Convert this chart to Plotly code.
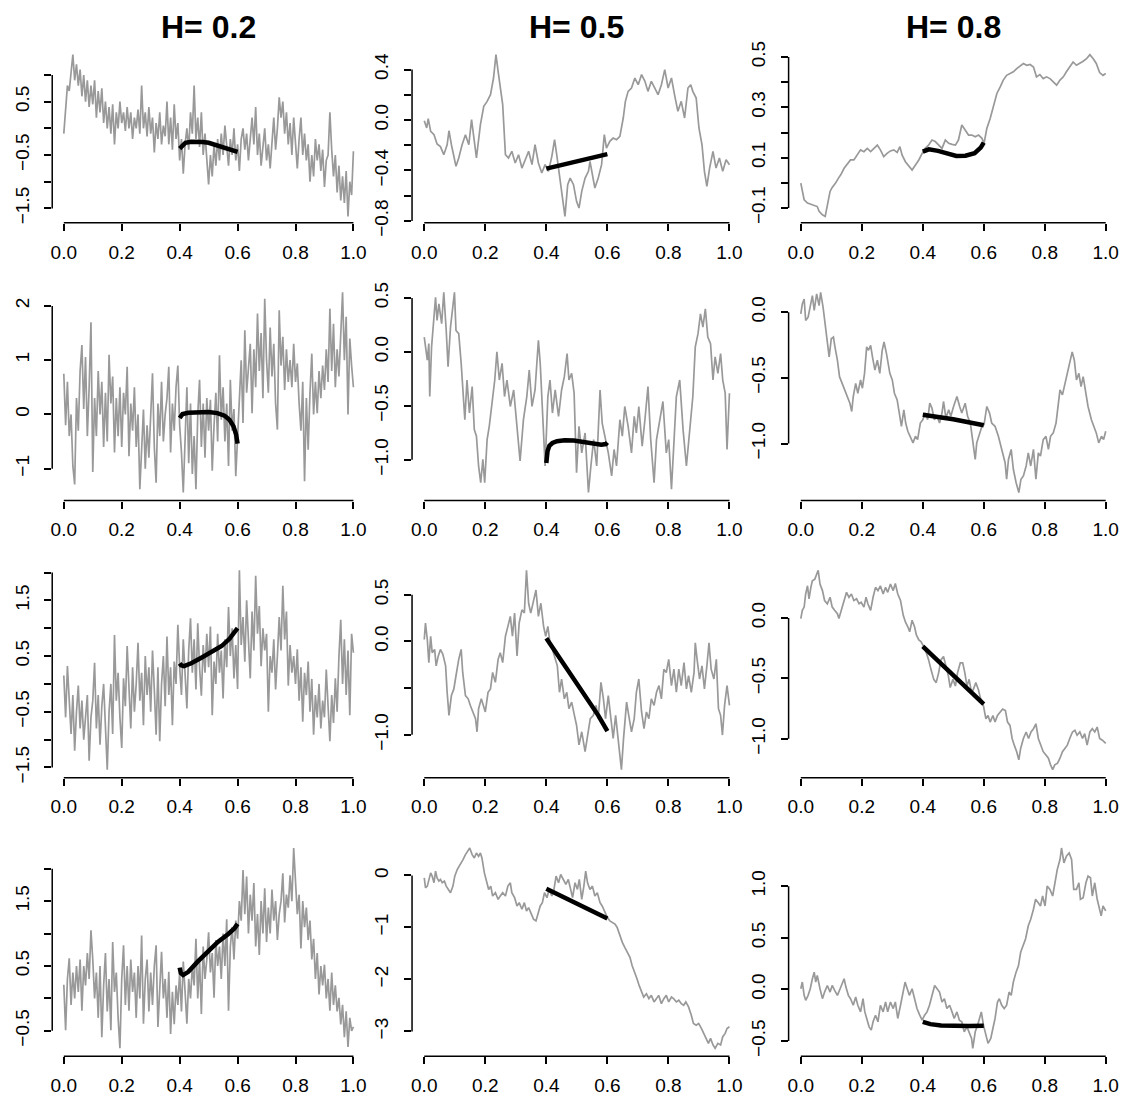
import numpy as np
import plotly.graph_objects as go

# ---------------- data ----------------
titles = ["H= 0.2", "H= 0.5", "H= 0.8"]

# Rough paths (H=0.2) sampled on a regular grid 0..1
p1_y = [-0.1, 0.4, 0.8, 0.7, 1.1, 1.38, 0.9, 1.2,
        0.8, 1.1, 0.6, 1.0, 0.5, 0.9, 0.4, 0.8,
        0.45, 0.9, 0.2, 0.7, 0.3, 0.75, 0.1, 0.5,
        0.0, 0.4, -0.1, 0.45, -0.3, 0.3, 0.0, 0.5,
        0.1, 0.3, -0.05, 0.4, 0.0, 0.3, -0.2, 0.2,
        0.0, 0.35, -0.1, 0.8, 0.0, 0.3, -0.15, 0.4,
        -0.1, 0.2, -0.45, 0.1, -0.2, 0.3, -0.3, 0.05,
        -0.15, 0.5, -0.3, 0.2, -0.4, 0.45, -0.2, 0.1,
        -0.6, -0.2, -0.85, -0.3, 0.0, -0.4, 0.3, -0.1,
        0.8, -0.2, 0.2, -0.35, 0.3, -0.5, -0.1, -0.6,
        -1.05, -0.5, -0.9, -0.3, -0.7, -0.2, -0.6, -0.1,
        -0.5, 0.05, -0.4, -0.7, -0.2, -0.5, 0.0, -0.6,
        -0.3, -0.8, -0.2, 0.0, -0.4, -0.1, -0.6, -0.2,
        0.2, -0.3, 0.4, -0.5, -0.1, -0.7, -0.3, 0.0,
        -0.6, -0.3, -0.75, -0.2, 0.2, -0.4, 0.0, 0.58,
        0.2, 0.5, -0.1, 0.3, -0.3, 0.1, -0.5, 0.2,
        -0.3, -0.75, -0.2, 0.2, -0.5, -0.1, -0.6, -0.3,
        -1.0, -0.5, -0.9, -0.2, -0.6, -0.3, -0.8, -0.4,
        -1.1, -0.6, -0.5, 0.3, -0.4, -0.9, -0.5, -1.2,
        -0.7, -1.35, -0.9, -1.4, -0.8, -1.65, -1.0, -1.25,
        -0.43]
p1_bx = [0.40, 0.42, 0.44, 0.46, 0.48, 0.50, 0.52, 0.54, 0.56, 0.58, 0.60]
p1_by = [-0.38, -0.27, -0.25, -0.245, -0.255, -0.27, -0.30, -0.33, -0.36, -0.40, -0.44]

p4_y = [0.75, -0.2, 0.6, -0.4, 0.0, -0.95, -1.29, 0.3,
        -0.3, 0.8, 1.28, 0.1, 1.06, -0.4, 0.5, 1.7,
        -1.06, 0.3, -0.4, 0.8, 0.0, 0.6, -0.6, 0.4,
        -0.5, 1.1, 0.2, 0.7, -0.7, 0.3, -0.4, 0.5,
        -0.6, 0.4, 0.0, 0.88, -0.77, 0.2, -0.3, 0.5,
        -0.6, 0.0, -1.38, -0.5, 0.09, -1.0, -0.2, -0.8,
        0.1, 0.76, -0.6, -1.26, 0.2, -0.4, 0.6, -0.5,
        0.0, 0.3, 0.88, -0.7, 0.2, -0.3, 0.5, 0.9,
        -0.2, -0.7, -1.44, -0.3, 0.5, -0.9, 0.2, -1.1,
        -0.4, -1.38, 0.0, 0.64, -0.6, 0.2, -0.8, 0.3,
        -0.3, 0.27, -1.04, -0.2, 0.4, -0.5, 1.09, -0.1,
        0.5, -0.5, 0.2, -0.95, 0.64, -0.3, 0.1, -1.14,
        -0.4, 0.3, 1.0, -0.16, 1.55, 0.4, 0.8, 1.3,
        0.02, 1.2, 0.5, 1.86, 0.8, 1.5, 0.3, 2.13,
        1.0, 0.4, 1.6, 0.7, 1.3, 0.2, -0.28, 1.92,
        0.9, 1.43, 0.45, 1.2, 0.6, 1.0, 0.5, 1.3,
        0.6, 0.94, 0.2, -0.3, 0.6, -1.23, 0.3, -0.65,
        0.4, 1.12, 0.0, 0.6, 0.02, 0.8, 0.3, 0.9,
        0.45, 1.2, 0.6, 1.95, 0.8, 1.67, 0.5, 1.2,
        0.7, 1.6, 2.25, 1.0, 1.8, 0.0, 1.4, 0.9,
        0.5]
p4_bx = [0.40, 0.41, 0.43, 0.46, 0.50, 0.53, 0.555, 0.572, 0.586, 0.595, 0.60]
p4_by = [-0.067, 0.006, 0.03, 0.043, 0.043, 0.024, -0.024, -0.098, -0.22, -0.37, -0.54]

p7_y = [0.15, -0.6, 0.32, -0.3, -0.9, -0.2, -1.2, -0.5,
        -0.03, -0.8, -0.3, -1.0, -0.5, -0.2, -1.38, -0.6,
        -0.3, 0.38, -0.8, -0.2, -1.09, -0.4, 0.0, -0.7,
        -1.54, -0.5, 0.0, -0.9, 0.88, -0.3, 0.2, -0.6,
        -1.15, 0.1, -0.4, 0.68, -0.2, -0.8, 0.3, -0.5,
        0.0, 0.74, -0.3, 0.2, -0.74, 0.5, -0.2, 0.3,
        -0.5, 0.6, -0.1, -0.91, 0.3, -1.03, 0.0, 0.5,
        -0.4, 0.85, -0.2, 0.3, -0.74, 0.4, 0.0, 1.06,
        0.3, -0.2, 0.8, 0.1, -0.44, 0.6, 1.18, 0.2,
        0.8, -0.1, 1.09, 0.3, -0.21, 0.7, 0.2, 0.9,
        0.3, 1.03, -0.56, 0.4, 0.0, 0.9, 0.2, 0.6,
        -0.26, 0.8, 0.3, 1.38, 0.5, 1.0, 0.1, 0.7,
        -0.09, 2.04, 0.7, 1.2, 0.4, 1.5, 0.8, 0.1,
        1.3, 0.6, 1.94, 0.9, 1.4, 0.32, 1.0, 0.6,
        0.9, -0.5, 0.5, 0.2, 0.8, -0.1, 0.5, 1.2,
        0.6, 1.76, 0.8, 1.3, -0.03, 0.7, 0.2, 0.5,
        0.0, 0.62, -0.3, 0.3, -0.68, 0.2, -0.2, 0.4,
        -0.5, 0.09, -0.91, -0.2, -0.6, 0.0, -0.8, -0.3,
        -0.6, 0.26, -0.4, -1.03, -0.2, -0.7, 0.1, -0.5,
        0.5, 1.15, 0.0, 0.8, -0.2, 0.6, -0.56, 0.9,
        0.56]
p7_bx = [0.40, 0.405, 0.415, 0.44, 0.475, 0.51, 0.545, 0.572, 0.60]
p7_by = [0.37, 0.335, 0.32, 0.37, 0.47, 0.57, 0.68, 0.81, 1.0]

p10_y = [0.21, -0.49, 0.3, 0.62, -0.1, 0.4, 0.0, 0.5,
         0.1, 0.6, -0.19, 0.5, 0.2, 0.7, 0.3, 1.05,
         0.6, 0.0, 0.4, -0.3, 0.5, -0.6, 0.2, 0.7,
         -0.2, 0.3, -0.49, 0.87, 0.1, 0.4, -0.3, -0.77,
         0.3, 0.82, -0.1, 0.5, -0.19, 0.6, 0.1, 0.4,
         -0.3, 0.5, 0.0, 0.97, -0.39, 0.3, 0.6, -0.2,
         0.4, -0.1, 0.5, 0.82, -0.44, 0.2, 0.72, 0.0,
         0.3, -0.3, 0.41, -0.55, 0.1, -0.4, 0.2, -0.1,
         0.4, -0.2, 0.57, 0.1, -0.39, 0.3, 0.0, 0.5,
         0.2, 0.92, 0.0, 0.6, -0.24, 0.8, 0.3, 0.6,
         1.02, 0.4, 0.7, 0.01, 0.9, 0.5, 0.8, 0.3,
         1.0, 0.5, 1.22, -0.19, 0.8, 1.1, 0.6, 1.2,
         0.92, 1.5, 1.2, 1.98, 1.3, 1.88, 1.0, 1.6,
         1.2, 1.78, 0.8, 1.3, 0.67, 1.5, 1.0, 1.7,
         0.87, 1.4, 1.0, 1.68, 1.2, 1.5, 0.9, 1.3,
         1.5, 1.93, 1.17, 1.6, 1.4, 1.9, 1.5, 2.32,
         1.78, 1.3, 1.6, 0.77, 1.5, 1.1, 1.4, 0.9,
         1.2, 0.6, 0.92, 0.3, 0.7, 0.06, 0.5, 0.2,
         0.52, 0.0, 0.3, -0.19, 0.4, -0.1, 0.2, -0.2,
         0.01, -0.4, -0.1, -0.6, -0.2, -0.75, -0.3, -0.5,
         -0.44]
p10_bx = [0.40, 0.404, 0.412, 0.43, 0.463, 0.498, 0.532, 0.567, 0.589, 0.60]
p10_by = [0.475, 0.39, 0.36, 0.41, 0.57, 0.72, 0.87, 0.99, 1.08, 1.15]

# H=0.5 paths (time, value)
p2_x = [0.000, 0.008, 0.013, 0.021, 0.032, 0.042, 0.053, 0.064, 0.075, 0.081, 0.089, 0.097, 0.104,
        0.113, 0.124, 0.135, 0.146, 0.155, 0.162, 0.171, 0.184, 0.195, 0.206, 0.217, 0.227, 0.235,
        0.242, 0.249, 0.257, 0.266, 0.276, 0.287, 0.298, 0.309, 0.320, 0.331, 0.342, 0.353, 0.363,
        0.374, 0.385, 0.396, 0.407, 0.418, 0.427, 0.434, 0.445, 0.456, 0.461, 0.470, 0.478, 0.489,
        0.499, 0.507, 0.516, 0.527, 0.538, 0.543, 0.551, 0.559, 0.570, 0.581, 0.590, 0.597, 0.608,
        0.619, 0.630, 0.641, 0.652, 0.659, 0.668, 0.679, 0.690, 0.701, 0.712, 0.723, 0.733, 0.744,
        0.755, 0.766, 0.777, 0.788, 0.799, 0.810, 0.820, 0.831, 0.842, 0.853, 0.864, 0.873, 0.880,
        0.891, 0.900, 0.910, 0.918, 0.926, 0.935, 0.946, 0.956, 0.967, 0.978, 0.989, 1.000]
p2_y = [-0.005, -0.063, 0.011, -0.090, -0.116, -0.190, -0.211, -0.275, -0.196, -0.085, -0.196, -0.275, -0.367,
        -0.301, -0.196, -0.116, -0.196, 0.003, -0.116, -0.301, -0.037, 0.108, 0.148, 0.201, 0.333, 0.518,
        0.386, 0.280, 0.122, -0.275, -0.301, -0.248, -0.341, -0.275, -0.381, -0.315, -0.248, -0.354, -0.196,
        -0.341, -0.420, -0.354, -0.407, -0.288, -0.156, -0.275, -0.460, -0.645, -0.764, -0.513, -0.460, -0.513,
        -0.645, -0.698, -0.566, -0.460, -0.407, -0.328, -0.434, -0.539, -0.460, -0.354, -0.116, -0.222, -0.169,
        -0.143, -0.156, -0.130, 0.016, 0.148, 0.227, 0.254, 0.333, 0.280, 0.360, 0.307, 0.227, 0.307,
        0.254, 0.201, 0.280, 0.399, 0.254, 0.333, 0.201, 0.069, 0.148, 0.016, 0.254, 0.280, 0.227,
        0.174, -0.063, -0.196, -0.407, -0.526, -0.381, -0.248, -0.381, -0.301, -0.407, -0.315, -0.354]
p2_bx = [0.40, 0.50, 0.60]
p2_by = [-0.385, -0.328, -0.27]

p5_x = [0.000, 0.004, 0.010, 0.015, 0.018, 0.024, 0.032, 0.037, 0.042, 0.048, 0.057, 0.064, 0.072,
        0.078, 0.086, 0.094, 0.099, 0.104, 0.113, 0.121, 0.127, 0.133, 0.140, 0.148, 0.157, 0.164,
        0.171, 0.178, 0.185, 0.192, 0.198, 0.206, 0.213, 0.222, 0.231, 0.238, 0.246, 0.255, 0.263,
        0.271, 0.282, 0.293, 0.304, 0.314, 0.325, 0.336, 0.344, 0.353, 0.363, 0.374, 0.380, 0.387,
        0.396, 0.405, 0.412, 0.420, 0.429, 0.440, 0.450, 0.459, 0.468, 0.474, 0.483, 0.491, 0.499,
        0.507, 0.516, 0.527, 0.538, 0.546, 0.555, 0.565, 0.576, 0.583, 0.592, 0.603, 0.614, 0.622,
        0.630, 0.641, 0.649, 0.657, 0.668, 0.679, 0.688, 0.695, 0.703, 0.714, 0.723, 0.733, 0.742,
        0.753, 0.761, 0.771, 0.782, 0.793, 0.801, 0.810, 0.818, 0.826, 0.837, 0.848, 0.859, 0.869,
        0.880, 0.888, 0.897, 0.905, 0.913, 0.921, 0.929, 0.938, 0.946, 0.953, 0.962, 0.971, 0.978,
        0.986, 0.992, 1.000]
p5_y = [0.138, 0.046, -0.077, 0.077, -0.414, 0.046, 0.353, 0.506, 0.291, 0.445, 0.261, 0.552, 0.199,
        -0.138, 0.230, 0.414, 0.552, 0.199, 0.169, -0.107, -0.353, -0.629, -0.261, -0.567, -0.322, -0.721,
        -0.782, -1.058, -1.212, -0.997, -1.212, -0.813, -0.690, -0.445, -0.261, 0.000, -0.261, -0.107, -0.414,
        -0.261, -0.506, -0.353, -0.721, -1.012, -0.629, -0.414, -0.169, -0.506, -0.353, 0.107, -0.107, -0.567,
        -1.058, -0.414, -0.261, -0.567, -0.353, -0.598, -0.353, -0.230, -0.015, -0.261, -0.199, -0.383, -1.120,
        -0.690, -0.936, -0.752, -1.304, -1.058, -0.813, -1.058, -0.353, -0.660, -0.782, -0.936, -1.150, -0.905,
        -1.058, -0.629, -0.782, -0.506, -0.690, -0.936, -0.598, -0.752, -0.506, -0.874, -0.629, -0.322, -0.813,
        -1.212, -0.813, -0.629, -0.460, -0.936, -0.813, -1.273, -0.874, -0.414, -0.261, -0.721, -1.058, -0.782,
        -0.414, 0.046, 0.169, 0.353, 0.230, 0.399, 0.138, 0.077, -0.261, -0.046, -0.199, -0.015, -0.261,
        -0.383, -0.905, -0.383]
p5_bx = [0.400, 0.401, 0.404, 0.41, 0.42, 0.435, 0.46, 0.49, 0.52, 0.55, 0.58, 0.595, 0.60]
p5_by = [-1.03, -0.98, -0.92, -0.87, -0.845, -0.828, -0.82, -0.822, -0.834, -0.85, -0.86, -0.855, -0.84]

p8_x = [0.000, 0.004, 0.010, 0.015, 0.021, 0.026, 0.034, 0.039, 0.046, 0.053, 0.061, 0.070, 0.075,
        0.081, 0.089, 0.097, 0.104, 0.113, 0.121, 0.126, 0.135, 0.144, 0.151, 0.159, 0.168, 0.173,
        0.178, 0.187, 0.195, 0.200, 0.209, 0.217, 0.224, 0.233, 0.242, 0.249, 0.257, 0.266, 0.274,
        0.282, 0.289, 0.296, 0.304, 0.311, 0.320, 0.328, 0.335, 0.342, 0.349, 0.358, 0.366, 0.374,
        0.382, 0.391, 0.398, 0.405, 0.412, 0.420, 0.429, 0.436, 0.443, 0.450, 0.459, 0.467, 0.474,
        0.483, 0.492, 0.499, 0.507, 0.516, 0.527, 0.535, 0.544, 0.554, 0.563, 0.570, 0.579, 0.587,
        0.594, 0.603, 0.610, 0.619, 0.627, 0.635, 0.646, 0.653, 0.663, 0.670, 0.679, 0.688, 0.695,
        0.703, 0.712, 0.720, 0.728, 0.736, 0.744, 0.753, 0.761, 0.769, 0.777, 0.785, 0.793, 0.801,
        0.810, 0.818, 0.826, 0.834, 0.842, 0.851, 0.859, 0.866, 0.875, 0.884, 0.888, 0.894, 0.902,
        0.910, 0.918, 0.926, 0.933, 0.940, 0.949, 0.957, 0.964, 0.971, 0.977, 0.984, 0.992, 1.000]
p8_y = [0.021, 0.198, 0.021, -0.226, 0.056, -0.120, -0.085, -0.261, -0.155, -0.085, -0.138, -0.261, -0.544,
        -0.791, -0.579, -0.508, -0.367, -0.191, -0.085, -0.332, -0.579, -0.614, -0.685, -0.755, -0.826, -0.967,
        -0.720, -0.614, -0.720, -0.755, -0.544, -0.508, -0.332, -0.438, -0.191, -0.120, -0.226, 0.056, 0.162,
        0.268, 0.056, 0.304, -0.155, 0.198, 0.339, 0.304, 0.762, 0.409, 0.304, 0.445, 0.551, 0.268,
        0.409, 0.162, 0.056, 0.162, -0.014, -0.085, -0.191, -0.261, -0.544, -0.402, -0.614, -0.544, -0.720,
        -0.650, -0.791, -0.897, -1.108, -0.967, -1.179, -1.002, -0.826, -0.791, -0.685, -0.826, -0.438, -0.614,
        -0.826, -0.579, -0.791, -1.038, -0.791, -1.038, -1.373, -1.038, -0.650, -0.791, -0.967, -0.826, -0.544,
        -0.402, -0.755, -0.932, -0.755, -0.826, -0.614, -0.685, -0.544, -0.473, -0.614, -0.297, -0.332, -0.191,
        -0.473, -0.297, -0.544, -0.297, -0.473, -0.226, -0.508, -0.367, -0.544, -0.332, -0.014, -0.191, -0.402,
        -0.261, -0.508, -0.261, -0.014, -0.297, -0.402, -0.191, -0.720, -0.791, -1.002, -0.685, -0.473, -0.685]
p8_bx = [0.40, 0.44, 0.483, 0.527, 0.57, 0.60]
p8_by = [0.035, -0.155, -0.367, -0.579, -0.791, -0.96]

p11_x = [0.000, 0.004, 0.010, 0.015, 0.021, 0.026, 0.032, 0.037, 0.042, 0.048, 0.053, 0.059, 0.066,
         0.072, 0.078, 0.086, 0.094, 0.100, 0.108, 0.115, 0.122, 0.127, 0.135, 0.143, 0.149, 0.157,
         0.164, 0.171, 0.178, 0.184, 0.189, 0.197, 0.205, 0.211, 0.218, 0.224, 0.233, 0.242, 0.249,
         0.257, 0.266, 0.274, 0.282, 0.287, 0.296, 0.304, 0.311, 0.320, 0.328, 0.335, 0.342, 0.349,
         0.358, 0.366, 0.372, 0.380, 0.387, 0.394, 0.402, 0.409, 0.418, 0.425, 0.432, 0.440, 0.447,
         0.456, 0.464, 0.472, 0.480, 0.486, 0.494, 0.502, 0.508, 0.516, 0.523, 0.529, 0.535, 0.543,
         0.551, 0.559, 0.567, 0.576, 0.583, 0.592, 0.600, 0.608, 0.616, 0.625, 0.632, 0.641, 0.649,
         0.657, 0.665, 0.674, 0.681, 0.690, 0.697, 0.704, 0.712, 0.719, 0.728, 0.736, 0.744, 0.753,
         0.761, 0.768, 0.777, 0.785, 0.793, 0.801, 0.810, 0.817, 0.826, 0.834, 0.842, 0.850, 0.857,
         0.866, 0.875, 0.882, 0.891, 0.899, 0.908, 0.916, 0.924, 0.931, 0.938, 0.946, 0.953, 0.962,
         0.971, 0.978, 0.986, 0.992, 1.000]
p11_y = [-0.045, -0.236, -0.204, -0.076, 0.051, -0.013, -0.140, 0.083, -0.045, -0.108, -0.076, -0.140, -0.108,
         -0.204, -0.268, -0.331, -0.204, -0.013, 0.115, 0.178, 0.242, 0.306, 0.401, 0.465, 0.529, 0.401,
         0.338, 0.433, 0.369, 0.433, 0.338, 0.051, -0.140, -0.268, -0.204, -0.395, -0.331, -0.459, -0.395,
         -0.331, -0.395, -0.204, -0.140, -0.331, -0.427, -0.586, -0.522, -0.650, -0.522, -0.682, -0.618, -0.713,
         -0.841, -0.873, -0.745, -0.586, -0.522, -0.331, -0.427, -0.268, -0.395, -0.268, -0.013, -0.140, 0.019,
         -0.076, -0.172, -0.076, -0.268, -0.427, -0.140, -0.268, -0.076, -0.459, -0.204, 0.083, -0.140, -0.268,
         -0.204, -0.395, -0.331, -0.522, -0.586, -0.713, -0.809, -0.873, -0.904, -0.936, -1.000, -1.159, -1.287,
         -1.382, -1.478, -1.573, -1.732, -1.860, -1.987, -2.115, -2.242, -2.338, -2.274, -2.369, -2.306, -2.433,
         -2.369, -2.306, -2.465, -2.369, -2.306, -2.433, -2.338, -2.369, -2.433, -2.401, -2.465, -2.497, -2.433,
         -2.529, -2.688, -2.847, -2.879, -2.847, -2.943, -3.038, -3.134, -3.229, -3.134, -3.261, -3.325, -3.229,
         -3.261, -3.102, -3.038, -2.943, -2.911]
p11_bx = [0.40, 0.50, 0.60]
p11_by = [-0.255, -0.545, -0.828]

# H=0.8 paths (time, value)
p3_x = [0.000, 0.005, 0.011, 0.022, 0.033, 0.044, 0.054, 0.060, 0.071, 0.080, 0.087, 0.096, 0.103,
        0.114, 0.123, 0.131, 0.142, 0.153, 0.163, 0.174, 0.185, 0.196, 0.207, 0.218, 0.229, 0.240,
        0.251, 0.261, 0.272, 0.283, 0.294, 0.305, 0.316, 0.325, 0.332, 0.343, 0.354, 0.365, 0.376,
        0.387, 0.398, 0.408, 0.419, 0.430, 0.441, 0.452, 0.463, 0.474, 0.485, 0.496, 0.507, 0.517,
        0.528, 0.539, 0.550, 0.561, 0.572, 0.583, 0.594, 0.601, 0.610, 0.621, 0.632, 0.643, 0.654,
        0.664, 0.675, 0.686, 0.697, 0.708, 0.719, 0.730, 0.741, 0.752, 0.763, 0.773, 0.784, 0.795,
        0.806, 0.817, 0.828, 0.839, 0.850, 0.861, 0.871, 0.882, 0.893, 0.904, 0.915, 0.926, 0.937,
        0.948, 0.959, 0.969, 0.980, 0.991, 1.000]
p3_y = [-0.001, -0.034, -0.067, -0.080, -0.084, -0.090, -0.094, -0.113, -0.127, -0.133, -0.087, -0.034, -0.018,
        -0.001, 0.018, 0.032, 0.058, 0.078, 0.091, 0.091, 0.111, 0.131, 0.124, 0.137, 0.124, 0.137,
        0.150, 0.131, 0.104, 0.117, 0.127, 0.131, 0.121, 0.144, 0.111, 0.084, 0.065, 0.051, 0.071,
        0.091, 0.117, 0.137, 0.150, 0.170, 0.164, 0.150, 0.137, 0.170, 0.157, 0.153, 0.150, 0.170,
        0.230, 0.210, 0.190, 0.190, 0.183, 0.190, 0.177, 0.157, 0.216, 0.256, 0.302, 0.355, 0.381,
        0.408, 0.427, 0.434, 0.441, 0.454, 0.464, 0.474, 0.467, 0.470, 0.460, 0.421, 0.430, 0.414,
        0.421, 0.414, 0.401, 0.388, 0.408, 0.421, 0.441, 0.460, 0.480, 0.467, 0.474, 0.483, 0.493,
        0.509, 0.493, 0.474, 0.438, 0.427, 0.434]
p3_bx = [0.40, 0.42, 0.45, 0.48, 0.51, 0.54, 0.57, 0.59, 0.60]
p3_by = [0.124, 0.133, 0.127, 0.115, 0.107, 0.108, 0.118, 0.140, 0.160]

p6_x = [0.000, 0.005, 0.011, 0.016, 0.024, 0.031, 0.038, 0.044, 0.052, 0.060, 0.065, 0.073, 0.080,
        0.087, 0.093, 0.100, 0.107, 0.112, 0.120, 0.127, 0.136, 0.145, 0.153, 0.161, 0.167, 0.172,
        0.180, 0.187, 0.196, 0.202, 0.209, 0.216, 0.222, 0.229, 0.235, 0.243, 0.251, 0.259, 0.267,
        0.273, 0.281, 0.286, 0.292, 0.300, 0.307, 0.316, 0.324, 0.330, 0.338, 0.344, 0.351, 0.359,
        0.368, 0.376, 0.383, 0.392, 0.400, 0.408, 0.416, 0.423, 0.430, 0.438, 0.447, 0.455, 0.463,
        0.468, 0.476, 0.485, 0.492, 0.501, 0.512, 0.521, 0.528, 0.539, 0.547, 0.556, 0.564, 0.572,
        0.577, 0.586, 0.594, 0.601, 0.610, 0.619, 0.626, 0.637, 0.648, 0.659, 0.670, 0.675, 0.681,
        0.690, 0.697, 0.706, 0.715, 0.722, 0.730, 0.739, 0.746, 0.754, 0.763, 0.771, 0.779, 0.786,
        0.795, 0.804, 0.812, 0.819, 0.828, 0.837, 0.844, 0.850, 0.858, 0.866, 0.874, 0.882, 0.890,
        0.897, 0.904, 0.912, 0.919, 0.926, 0.934, 0.942, 0.953, 0.961, 0.969, 0.977, 0.986, 0.993,
        1.000]
p6_y = [-0.013, 0.063, 0.101, -0.063, -0.038, 0.038, 0.126, 0.013, 0.139, 0.050, 0.151, 0.038, -0.088,
        -0.239, -0.340, -0.202, -0.189, -0.264, -0.365, -0.491, -0.542, -0.592, -0.642, -0.693, -0.756, -0.642,
        -0.542, -0.617, -0.516, -0.579, -0.466, -0.264, -0.290, -0.252, -0.340, -0.441, -0.365, -0.466, -0.290,
        -0.227, -0.315, -0.390, -0.466, -0.516, -0.617, -0.668, -0.793, -0.869, -0.743, -0.844, -0.907, -0.945,
        -0.995, -0.945, -0.970, -0.844, -0.819, -0.768, -0.819, -0.693, -0.730, -0.819, -0.793, -0.844, -0.768,
        -0.680, -0.806, -0.743, -0.793, -0.718, -0.642, -0.718, -0.768, -0.693, -0.793, -0.844, -0.970, -1.121,
        -0.995, -0.919, -0.869, -0.856, -0.718, -0.768, -0.844, -0.869, -0.945, -1.045, -1.146, -1.272, -1.121,
        -1.045, -1.196, -1.297, -1.373, -1.272, -1.247, -1.171, -1.071, -1.171, -1.045, -1.272, -1.071, -1.096,
        -0.970, -0.945, -1.045, -0.945, -0.919, -0.844, -0.718, -0.592, -0.630, -0.542, -0.466, -0.390, -0.302,
        -0.365, -0.516, -0.466, -0.567, -0.491, -0.617, -0.718, -0.819, -0.869, -0.919, -0.995, -0.945, -0.970,
        -0.907]
p6_bx = [0.40, 0.50, 0.60]
p6_by = [-0.781, -0.815, -0.861]

p9_x = [0.000, 0.005, 0.011, 0.016, 0.022, 0.027, 0.033, 0.038, 0.046, 0.052, 0.057, 0.063, 0.071,
        0.078, 0.087, 0.096, 0.103, 0.111, 0.120, 0.125, 0.133, 0.142, 0.150, 0.158, 0.166, 0.174,
        0.183, 0.191, 0.198, 0.207, 0.214, 0.220, 0.229, 0.237, 0.245, 0.253, 0.261, 0.270, 0.278,
        0.285, 0.294, 0.303, 0.310, 0.318, 0.327, 0.336, 0.343, 0.351, 0.357, 0.365, 0.373, 0.379,
        0.387, 0.394, 0.403, 0.412, 0.419, 0.427, 0.436, 0.444, 0.452, 0.460, 0.468, 0.476, 0.484,
        0.490, 0.499, 0.507, 0.514, 0.523, 0.531, 0.538, 0.545, 0.552, 0.560, 0.566, 0.574, 0.582,
        0.590, 0.599, 0.607, 0.614, 0.621, 0.630, 0.637, 0.645, 0.654, 0.662, 0.671, 0.678, 0.686,
        0.693, 0.700, 0.708, 0.715, 0.721, 0.730, 0.739, 0.747, 0.755, 0.763, 0.771, 0.779, 0.787,
        0.795, 0.804, 0.812, 0.819, 0.826, 0.833, 0.842, 0.850, 0.858, 0.866, 0.874, 0.882, 0.891,
        0.899, 0.906, 0.915, 0.924, 0.931, 0.939, 0.948, 0.956, 0.964, 0.972, 0.980, 0.989, 1.000]
p9_y = [-0.005, 0.063, 0.090, 0.198, 0.266, 0.158, 0.253, 0.307, 0.321, 0.361, 0.394, 0.280, 0.226,
        0.144, 0.117, 0.171, 0.090, 0.063, 0.035, -0.005, 0.063, 0.144, 0.212, 0.171, 0.198, 0.144,
        0.158, 0.117, 0.130, 0.090, 0.171, 0.117, 0.063, 0.171, 0.253, 0.226, 0.266, 0.198, 0.253,
        0.212, 0.280, 0.226, 0.285, 0.198, 0.144, 0.022, -0.033, -0.073, -0.114, -0.019, -0.073, -0.141,
        -0.182, -0.196, -0.236, -0.291, -0.345, -0.427, -0.508, -0.535, -0.454, -0.345, -0.318, -0.399, -0.481,
        -0.576, -0.508, -0.563, -0.454, -0.372, -0.372, -0.454, -0.563, -0.508, -0.617, -0.590, -0.535, -0.590,
        -0.671, -0.726, -0.834, -0.807, -0.861, -0.807, -0.861, -0.807, -0.780, -0.753, -0.766, -0.861, -0.889,
        -0.997, -1.052, -1.106, -1.174, -1.079, -0.997, -0.943, -0.997, -0.943, -0.916, -0.875, -0.997, -1.052,
        -1.106, -1.133, -1.160, -1.215, -1.255, -1.215, -1.201, -1.160, -1.106, -1.079, -1.052, -0.997, -0.943,
        -0.929, -0.970, -0.943, -0.997, -0.957, -1.052, -0.943, -0.916, -0.943, -0.902, -0.997, -1.011, -1.038]
p9_bx = [0.40, 0.50, 0.60]
p9_by = [-0.236, -0.47, -0.712]

p12_x = [0.000, 0.005, 0.011, 0.016, 0.024, 0.031, 0.038, 0.044, 0.049, 0.054, 0.063, 0.071, 0.078,
         0.087, 0.096, 0.103, 0.111, 0.120, 0.129, 0.136, 0.142, 0.148, 0.156, 0.163, 0.172, 0.180,
         0.187, 0.196, 0.204, 0.210, 0.218, 0.224, 0.231, 0.237, 0.245, 0.253, 0.261, 0.270, 0.278,
         0.285, 0.294, 0.303, 0.310, 0.318, 0.327, 0.334, 0.342, 0.349, 0.356, 0.365, 0.373, 0.381,
         0.390, 0.398, 0.406, 0.414, 0.422, 0.430, 0.439, 0.447, 0.455, 0.463, 0.471, 0.479, 0.488,
         0.496, 0.503, 0.512, 0.520, 0.528, 0.536, 0.545, 0.552, 0.560, 0.564, 0.572, 0.580, 0.586,
         0.592, 0.599, 0.608, 0.614, 0.623, 0.630, 0.637, 0.645, 0.651, 0.659, 0.667, 0.675, 0.683,
         0.690, 0.697, 0.706, 0.714, 0.721, 0.730, 0.737, 0.746, 0.754, 0.763, 0.770, 0.778, 0.786,
         0.793, 0.801, 0.808, 0.817, 0.826, 0.833, 0.841, 0.850, 0.855, 0.863, 0.871, 0.880, 0.888,
         0.895, 0.904, 0.912, 0.917, 0.926, 0.935, 0.942, 0.950, 0.956, 0.964, 0.972, 0.978, 0.985,
         0.991, 1.000]
p12_y = [0.006, 0.071, -0.058, -0.106, -0.058, 0.006, 0.103, 0.167, 0.071, 0.135, 0.006, -0.090, -0.026,
         0.038, -0.026, 0.038, -0.010, -0.058, 0.006, 0.071, 0.103, 0.022, -0.058, -0.090, -0.154, -0.074,
         -0.154, -0.218, -0.090, -0.218, -0.298, -0.363, -0.395, -0.314, -0.250, -0.314, -0.154, -0.218, -0.122,
         -0.218, -0.122, -0.186, -0.122, -0.282, -0.154, -0.058, 0.071, 0.006, -0.058, 0.006, -0.090, -0.186,
         -0.250, -0.298, -0.250, -0.218, -0.154, -0.058, 0.038, 0.006, -0.026, -0.122, -0.090, -0.186, -0.154,
         -0.218, -0.282, -0.218, -0.298, -0.314, -0.411, -0.363, -0.411, -0.475, -0.571, -0.411, -0.346, -0.282,
         -0.218, -0.346, -0.443, -0.523, -0.475, -0.379, -0.282, -0.122, -0.090, -0.154, -0.186, -0.154, -0.026,
         -0.058, 0.071, 0.167, 0.231, 0.359, 0.423, 0.488, 0.616, 0.680, 0.776, 0.873, 0.841, 0.808,
         0.905, 0.808, 1.001, 0.969, 0.905, 1.033, 1.161, 1.258, 1.370, 1.226, 1.290, 1.322, 1.258,
         0.969, 0.969, 1.033, 0.873, 0.889, 1.033, 1.097, 1.081, 0.905, 1.033, 0.873, 0.808, 0.712,
         0.808, 0.760]
p12_bx = [0.40, 0.425, 0.46, 0.50, 0.55, 0.60]
p12_by = [-0.314, -0.337, -0.350, -0.356, -0.356, -0.353]

# Axis ticks (values) and labels shown (blank = tick drawn without label)
x_ticks = [0.0, 0.2, 0.4, 0.6, 0.8, 1.0]
x_labels = ["0.0", "0.2", "0.4", "0.6", "0.8", "1.0"]
y_ticks = [
    [-1.5, -1.0, -0.5, 0.0, 0.5, 1.0],
    [-0.8, -0.6, -0.4, -0.2, 0.0, 0.2, 0.4],
    [-0.1, 0.0, 0.1, 0.2, 0.3, 0.4, 0.5],
    [-1, 0, 1, 2],
    [-1.0, -0.5, 0.0, 0.5],
    [-1.0, -0.5, 0.0],
    [-1.5, -1.0, -0.5, 0.0, 0.5, 1.0, 1.5, 2.0],
    [-1.0, -0.5, 0.0, 0.5],
    [-1.0, -0.5, 0.0],
    [-0.5, 0.0, 0.5, 1.0, 1.5, 2.0],
    [-3, -2, -1, 0],
    [-0.5, 0.0, 0.5, 1.0],
]
y_labels = [
    ["\u22121.5", "", "\u22120.5", "", "0.5", ""],
    ["\u22120.8", "", "\u22120.4", "", "0.0", "", "0.4"],
    ["\u22120.1", "", "0.1", "", "0.3", "", "0.5"],
    ["\u22121", "0", "1", "2"],
    ["\u22121.0", "\u22120.5", "0.0", "0.5"],
    ["\u22121.0", "\u22120.5", "0.0"],
    ["\u22121.5", "", "\u22120.5", "", "0.5", "", "1.5", ""],
    ["\u22121.0", "", "0.0", "0.5"],
    ["\u22121.0", "\u22120.5", "0.0"],
    ["\u22120.5", "", "0.5", "", "1.5", ""],
    ["\u22123", "\u22122", "\u22121", "0"],
    ["\u22120.5", "0.0", "0.5", "1.0"],
]

# ---------------- assemble ----------------
def grid(y):
    return list(np.linspace(0, 1, len(y)))

grey_x = [grid(p1_y), p2_x, p3_x, grid(p4_y), p5_x, p6_x, grid(p7_y), p8_x, p9_x, grid(p10_y), p11_x, p12_x]
grey_y = [p1_y, p2_y, p3_y, p4_y, p5_y, p6_y, p7_y, p8_y, p9_y, p10_y, p11_y, p12_y]
black_x = [p1_bx, p2_bx, p3_bx, p4_bx, p5_bx, p6_bx, p7_bx, p8_bx, p9_bx, p10_bx, p11_bx, p12_bx]
black_y = [p1_by, p2_by, p3_by, p4_by, p5_by, p6_by, p7_by, p8_by, p9_by, p10_by, p11_by, p12_by]

W, H = 1128, 1113
col_px = [(50.4, 364.3), (411.5, 742.3), (789.4, 1119.9)]
row_px = [(42.0, 220.0), (282.7, 503.0), (566.0, 785.5), (849.0, 1069.5)]

FONT = "Liberation Sans, Arial, Helvetica, sans-serif"
GREY = "#999999"
fig = go.Figure()
layout = dict(width=W, height=H, margin=dict(l=0, r=0, t=0, b=0),
              paper_bgcolor="white", plot_bgcolor="white", showlegend=False,
              font=dict(family=FONT, color="black"))
shapes = []
annotations = []

for k in range(12):
    r, c = divmod(k, 3)
    n = "" if k == 0 else str(k + 1)
    xa, ya = "x" + n, "y" + n
    fig.add_trace(go.Scatter(x=grey_x[k], y=grey_y[k], mode="lines",
                             line=dict(color=GREY, width=1.7), xaxis=xa, yaxis=ya,
                             hoverinfo="skip"))
    fig.add_trace(go.Scatter(x=black_x[k], y=black_y[k], mode="lines",
                             line=dict(color="black", width=4.5), xaxis=xa, yaxis=ya,
                             hoverinfo="skip"))
    allv = list(grey_y[k]) + list(black_y[k])
    lo, hi = min(allv), max(allv)
    pad = 0.04 * (hi - lo)
    x0p, x1p = col_px[c]
    t_px, b_px = row_px[r]
    layout["xaxis" + n] = dict(domain=[x0p / W, x1p / W], range=[-0.04, 1.04], anchor=ya,
                               tickvals=x_ticks, ticktext=x_labels, ticks="outside", ticklen=7,
                               tickwidth=1.5, tickcolor="black", showgrid=False, zeroline=False,
                               showline=False, tickfont=dict(size=19, family=FONT),
                               ticklabelstandoff=5, fixedrange=True)
    layout["yaxis" + n] = dict(domain=[1 - b_px / H, 1 - t_px / H], range=[lo - pad, hi + pad],
                               anchor=xa, tickvals=y_ticks[k], ticktext=y_labels[k],
                               ticks="outside", ticklen=7, tickwidth=1.5, tickcolor="black",
                               showgrid=False, zeroline=False, showline=False, tickangle=-90,
                               tickfont=dict(size=19, family=FONT), ticklabelstandoff=8,
                               fixedrange=True)
    shapes.append(dict(type="line", xref=xa, yref=ya + " domain", x0=x_ticks[0], x1=x_ticks[-1],
                       y0=0, y1=0, line=dict(color="black", width=1.5)))
    shapes.append(dict(type="line", xref=xa + " domain", yref=ya, x0=0, x1=0,
                       y0=y_ticks[k][0], y1=y_ticks[k][-1], line=dict(color="black", width=1.5)))

for c in range(3):
    x0p, x1p = col_px[c]
    annotations.append(dict(text="<b>" + titles[c] + "</b>", xref="paper", yref="paper",
                            x=(x0p + x1p) / 2 / W, y=1 - 20 / H, xanchor="center", yanchor="middle",
                            showarrow=False, font=dict(size=32, family=FONT, color="black")))

layout["shapes"] = shapes
layout["annotations"] = annotations
fig.update_layout(**layout)
fig.write_html("out.html", config={"displayModeBar": False},
               post_script="document.body.style.margin='0';document.body.style.overflow='hidden';")
